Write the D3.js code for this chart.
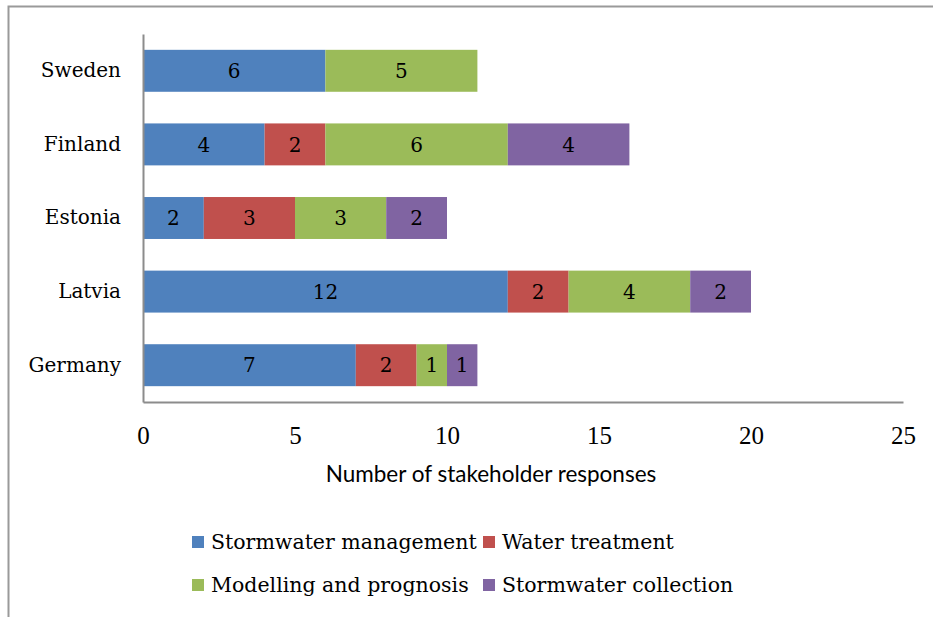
<!DOCTYPE html>
<html>
<head>
<meta charset="utf-8">
<script src="https://cdn.jsdelivr.net/npm/d3@7"></script>
<style>
  body { margin: 0; background: #fff; }
</style>
</head>
<body>
<div id="chart"></div>
<script>
// data
var countries = ["Sweden", "Finland", "Estonia", "Latvia", "Germany"];
var seriesNames = ["Stormwater management", "Water treatment", "Modelling and prognosis", "Stormwater collection"];
var stormwaterMgmt = [6, 4, 2, 12, 7];
var waterTreatment = [0, 2, 3, 2, 2];
var modelling = [5, 6, 3, 4, 1];
var collection = [0, 4, 2, 2, 1];
var xTicks = [0, 5, 10, 15, 20, 25];
var colors = ["#4f81bd", "#c0504d", "#9bbb59", "#8064a2"];

var W = 933, H = 617;
var margin = {top: 34, left: 143, right: 30, bottom: 215};
var width = W - margin.left - margin.right,
    height = H - margin.top - margin.bottom;

var svg = d3.select("#chart").append("svg")
    .attr("width", W)
    .attr("height", H);

// outer frame (only left and top edges are visible)
svg.append("path")
    .attr("d", "M8.5," + H + "V6.5H" + W)
    .attr("fill", "none")
    .attr("stroke", "#9a9a9a")
    .attr("stroke-width", 2);

var g = svg.append("g")
    .attr("transform", "translate(" + margin.left + "," + margin.top + ")");

var rows = countries.map(function(c, i) {
  return {country: c, values: [stormwaterMgmt[i], waterTreatment[i], modelling[i], collection[i]]};
});

var x = d3.scaleLinear().domain([0, 25]).range([0, width]);
var y = d3.scaleBand().domain(countries).range([0, height]).paddingInner(0.43).paddingOuter(0.215);

// segments
rows.forEach(function(r) {
  var start = 0;
  r.values.forEach(function(v, k) {
    if (v > 0) {
      g.append("rect")
        .attr("x", x(start))
        .attr("y", y(r.country))
        .attr("width", x(start + v) - x(start))
        .attr("height", y.bandwidth())
        .attr("fill", colors[k]);
      g.append("text")
        .attr("x", x(start + v / 2))
        .attr("y", y(r.country) + y.bandwidth() / 2)
        .attr("dy", "0.36em")
        .attr("text-anchor", "middle")
        .style("font-family", "'DejaVu Serif', serif")
        .style("font-size", "20px")
        .attr("fill", "#000")
        .text(v);
    }
    start += v;
  });
});

// x axis
var xAxis = g.append("g")
    .attr("transform", "translate(0," + height + ")")
    .call(d3.axisBottom(x).tickValues(xTicks).tickSize(0).tickPadding(24));
xAxis.select(".domain").attr("stroke", "#8c8c8c").attr("stroke-width", 2);
xAxis.selectAll("text")
    .style("font-family", "'Liberation Serif', serif")
    .style("font-size", "25px")
    .attr("fill", "#000");

// y axis
var yAxis = g.append("g")
    .call(d3.axisLeft(y).tickSize(0).tickPadding(22));
yAxis.select(".domain").attr("stroke", "#8c8c8c").attr("stroke-width", 2);
yAxis.selectAll("text")
    .style("font-family", "'DejaVu Serif', serif")
    .style("font-size", "20px")
    .attr("fill", "#000");

// axis title
svg.append("text")
    .attr("x", 491)
    .attr("y", 482)
    .attr("text-anchor", "middle")
    .style("font-family", "Lato, sans-serif")
    .style("font-size", "22.5px")
    .attr("fill", "#000")
    .text("Number of stakeholder responses");

// legend
var legendPos = [[192, 542], [483, 542], [192, 585], [483, 585]];
seriesNames.forEach(function(name, k) {
  var lg = svg.append("g")
      .attr("transform", "translate(" + legendPos[k][0] + "," + legendPos[k][1] + ")");
  lg.append("rect")
      .attr("x", 0).attr("y", -6)
      .attr("width", 12).attr("height", 12)
      .attr("fill", colors[k]);
  lg.append("text")
      .attr("x", 19)
      .attr("dy", "0.36em")
      .style("font-family", "'DejaVu Serif', serif")
      .style("font-size", "20.5px")
      .attr("fill", "#000")
      .text(name);
});
</script>
</body>
</html>
